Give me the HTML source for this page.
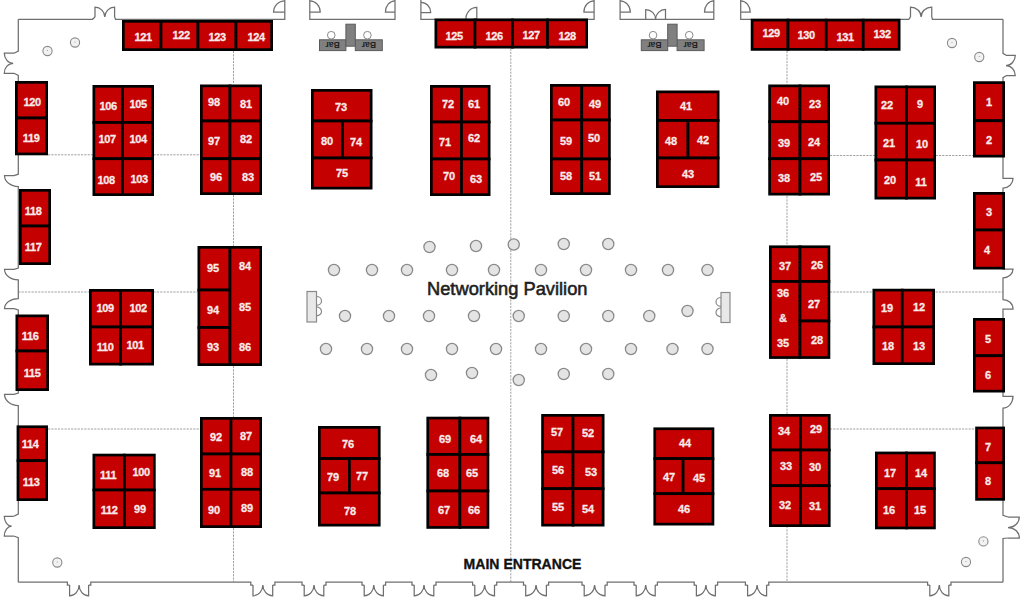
<!DOCTYPE html><html><head><meta charset="utf-8"><style>html,body{margin:0;padding:0;background:#fff;}svg{display:block;}</style></head><body>
<svg width="1024" height="601" viewBox="0 0 1024 601" font-family="Liberation Sans, sans-serif">
<rect width="1024" height="601" fill="#fff"/>
<g stroke="#a0a0a0" stroke-width="1" stroke-dasharray="2.2 1.1" fill="none">
<line x1="233.5" y1="51" x2="233.5" y2="84.5"/>
<line x1="233.5" y1="195" x2="233.5" y2="246"/>
<line x1="233.5" y1="366" x2="233.5" y2="417"/>
<line x1="233.5" y1="528" x2="233.5" y2="582"/>
<line x1="510.8" y1="48.5" x2="510.8" y2="582"/>
<line x1="787" y1="51" x2="787" y2="84.5"/>
<line x1="787" y1="196" x2="787" y2="245.5"/>
<line x1="787" y1="359" x2="787" y2="414"/>
<line x1="787" y1="526" x2="787" y2="582"/>
<line x1="48" y1="154.8" x2="200" y2="154.8"/>
<line x1="830" y1="155.5" x2="973" y2="155.5"/>
<line x1="18.3" y1="292" x2="197.5" y2="292"/>
<line x1="830" y1="292" x2="1003" y2="292"/>
<line x1="48" y1="429" x2="200" y2="429"/>
<line x1="830" y1="429" x2="975" y2="429"/>
</g>
<g stroke="#6f6f6f" stroke-width="1.25" fill="none" stroke-linejoin="miter">
<path d="M284.8,0 L284.8,19.3 L115.6,19.3 L114.6,17 M95,17 L92.5,19.3 L18.3,19.3"/>
<path d="M95,17.0 L95,7.199999999999999 A9.799999999999997,9.8 0 0 1 104.8,17.0 A9.799999999999997,9.8 0 0 1 114.6,7.199999999999999 L114.6,17.0"/>
<path d="M284.8,12.2 L273.6,12.2 A11.2,11.4 0 0 1 284.8,0.8"/>
<path d="M309.8,0 L309.8,19.3 L395,19.3 L395,0"/>
<path d="M309.8,12.2 L320.2,12.2 A10.4,11.4 0 0 0 309.8,0.8"/>
<path d="M395,12.2 L385.4,12.2 A9.6,11.4 0 0 1 395,0.8"/>
<path d="M420.9,0 L420.9,19.3 L594.1,19.3 L594.1,0"/>
<path d="M420.9,12.5 L430.7,12.5 A9.8,10.2 0 0 0 420.9,2.3"/>
<path d="M465.9,19.3 A10.9,11.7 0 0 1 476.8,7.4 L476.8,19.3"/>
<path d="M594.1,12.2 L583.9,12.2 A10.2,11.4 0 0 1 594.1,0.8"/>
<path d="M620.1,0 L620.1,19.3 L713.8,19.3 L713.8,0"/>
<path d="M620.1,12.2 L630.3,12.2 A10.2,11.4 0 0 0 620.1,0.8"/>
<path d="M713.8,12.2 L704.5,12.2 A9.3,11.4 0 0 1 713.8,0.8"/>
<path d="M645.7,19.3 L645.7,9.5 A9.899999999999977,9.8 0 0 1 655.6,19.3 A9.899999999999977,9.8 0 0 1 665.5,9.5 L665.5,19.3"/>
<path d="M740.7,0 L740.7,19.3 L908.7,19.3 L910.5,17 M931.75,17 L932.5,19.3 L1003,19.3"/>
<path d="M740.7,12.2 L750.2,12.2 A9.5,11.4 0 0 0 740.7,0.8"/>
<path d="M910.5,17 L910.5,7.199999999999999 A10.625,9.8 0 0 1 921.125,17 A10.625,9.8 0 0 1 931.75,7.199999999999999 L931.75,17"/>
<path d="M18.3,19.3 L18.3,51 L14,53.2"/>
<path d="M14,53.2 L4.3,53.2 A8.899999999999999,10.049999999999997 0 0 0 13.2,63.25 A8.899999999999999,10.049999999999997 0 0 0 4.3,73.3 L14,73.3"/>
<path d="M14,73.3 L18.3,75.4 L18.3,174.2 L14,175.5 L4.5,175.5 A13.8,11 0 0 0 18.3,186.5 L18.3,268 L14,269.3 L4.5,269.3 A13.8,10.5 0 0 0 18.3,279.8 L18.3,298.5 A13.8,10.1 0 0 0 4.5,308.6 L14,308.6 L18.3,310 L18.3,393 L14,394.3 L4.5,394.3 A13.8,11.2 0 0 0 18.3,405.5 L18.3,514 L13.7,516.3"/>
<path d="M13.7,516.3 L4.3,516.3 A7.3999999999999995,9.850000000000023 0 0 0 11.7,526.15 A7.3999999999999995,9.850000000000023 0 0 0 4.3,536 L13.7,536"/>
<path d="M13.7,536 L18.3,537.7 L18.3,582.2"/>
<path d="M1003,19.3 L1003,53.3 L1006,55.3"/>
<path d="M1006,55.3 L1015.3,55.3 A9.299999999999955,10.200000000000003 0 0 1 1006,65.5 A9.299999999999955,10.200000000000003 0 0 1 1015.3,75.7 L1006,75.7"/>
<path d="M1006,75.7 L1003,77.7 L1003,178.4 L1013,178.4 A10,9.6 0 0 1 1003,188 L1003,269.2 L1013,269.2 A10,8.6 0 0 1 1003,277.8 L1003,299.5 A10,9.5 0 0 1 1013,309 L1003,309 L1003,396.3 L1013,396.3 A10,11.7 0 0 1 1003,408 L1003,515.3 L1008,517"/>
<path d="M1008,517 L1019.3,517 A11.299999999999955,10.5 0 0 1 1008,527.5 A11.299999999999955,10.5 0 0 1 1019.3,538 L1008,538"/>
<path d="M1008,538 L1003,538.5 L1003,582.2"/>
<path d="M18.3,582.2 L67.4,582.2 L67.4,585 L69.60000000000001,585 M88.6,585 L90.8,585 L90.8,582.2 L250.8,582.2 L250.8,585 L253.0,585 M272.7,585 L274.9,585 L274.9,582.2 L302,582.2 L302,585 L304.2,585 M323.8,585 L326,585 L326,582.2 L362,582.2 L362,585 L364.2,585 M383.40000000000003,585 L385.6,585 L385.6,582.2 L412,582.2 L412,585 L414.2,585 M433.8,585 L436,585 L436,582.2 L472.6,582.2 L472.6,585 L474.8,585 M494.5,585 L496.7,585 L496.7,582.2 L523.5,582.2 L523.5,585 L525.7,585 M546.4,585 L548.6,585 L548.6,582.2 L582,582.2 L582,585 L584.2,585 M605.0,585 L607.2,585 L607.2,582.2 L634,582.2 L634,585 L636.2,585 M655.1999999999999,585 L657.4,585 L657.4,582.2 L694.2,582.2 L694.2,585 L696.4000000000001,585 M715.4,585 L717.6,585 L717.6,582.2 L745.4,582.2 L745.4,585 L747.6,585 M766.5999999999999,585 L768.8,585 L768.8,582.2 L927.6,582.2 L927.6,585 L929.8000000000001,585 M948.8,585 L951,585 L951,582.2 L1003,582.2"/>
<path d="M69.60000000000001,585.0 L69.60000000000001,595.8 A9.499999999999986,10.8 0 0 0 79.1,585.0 A9.499999999999986,10.8 0 0 0 88.6,595.8 L88.6,585.0"/>
<path d="M253.0,585.0 L253.0,595.8 A9.850000000000023,10.8 0 0 0 262.85,585.0 A9.850000000000023,10.8 0 0 0 272.7,595.8 L272.7,585.0"/>
<path d="M304.2,585.0 L304.2,595.8 A9.800000000000011,10.8 0 0 0 314.0,585.0 A9.800000000000011,10.8 0 0 0 323.8,595.8 L323.8,585.0"/>
<path d="M364.2,585.0 L364.2,595.8 A9.600000000000023,10.8 0 0 0 373.8,585.0 A9.600000000000023,10.8 0 0 0 383.40000000000003,595.8 L383.40000000000003,585.0"/>
<path d="M414.2,585.0 L414.2,595.8 A9.800000000000011,10.8 0 0 0 424.0,585.0 A9.800000000000011,10.8 0 0 0 433.8,595.8 L433.8,585.0"/>
<path d="M474.8,585.0 L474.8,595.8 A9.849999999999966,10.8 0 0 0 484.65,585.0 A9.849999999999966,10.8 0 0 0 494.5,595.8 L494.5,585.0"/>
<path d="M525.7,585.0 L525.7,595.8 A10.349999999999909,10.8 0 0 0 536.05,585.0 A10.349999999999909,10.8 0 0 0 546.4,595.8 L546.4,585.0"/>
<path d="M584.2,585.0 L584.2,595.8 A10.399999999999977,10.8 0 0 0 594.6,585.0 A10.399999999999977,10.8 0 0 0 605.0,595.8 L605.0,585.0"/>
<path d="M636.2,585.0 L636.2,595.8 A9.5,10.8 0 0 0 645.7,585.0 A9.5,10.8 0 0 0 655.1999999999999,595.8 L655.1999999999999,585.0"/>
<path d="M696.4000000000001,585.0 L696.4000000000001,595.8 A9.5,10.8 0 0 0 705.9000000000001,585.0 A9.5,10.8 0 0 0 715.4,595.8 L715.4,585.0"/>
<path d="M747.6,585.0 L747.6,595.8 A9.499999999999886,10.8 0 0 0 757.0999999999999,585.0 A9.499999999999886,10.8 0 0 0 766.5999999999999,595.8 L766.5999999999999,585.0"/>
<path d="M929.8000000000001,585.0 L929.8000000000001,595.8 A9.499999999999886,10.8 0 0 0 939.3,585.0 A9.499999999999886,10.8 0 0 0 948.8,595.8 L948.8,585.0"/>
</g>
<g stroke="#8a8a8a" stroke-width="1.3" fill="#e4e4e4">
<circle cx="429.5" cy="247" r="5.6"/>
<circle cx="476" cy="246" r="5.6"/>
<circle cx="513.75" cy="244.5" r="5.6"/>
<circle cx="563.75" cy="244" r="5.6"/>
<circle cx="608.25" cy="244" r="5.6"/>
<circle cx="334" cy="270" r="5.6"/>
<circle cx="372" cy="270" r="5.6"/>
<circle cx="407" cy="270" r="5.6"/>
<circle cx="452" cy="270" r="5.6"/>
<circle cx="494" cy="270" r="5.6"/>
<circle cx="541" cy="270" r="5.6"/>
<circle cx="586" cy="270" r="5.6"/>
<circle cx="631" cy="270" r="5.6"/>
<circle cx="668" cy="270" r="5.6"/>
<circle cx="707.5" cy="270" r="5.6"/>
<circle cx="345" cy="316" r="5.6"/>
<circle cx="389" cy="316" r="5.6"/>
<circle cx="429" cy="316" r="5.6"/>
<circle cx="474" cy="316" r="5.6"/>
<circle cx="518.75" cy="316" r="5.6"/>
<circle cx="563.75" cy="316" r="5.6"/>
<circle cx="608.25" cy="316" r="5.6"/>
<circle cx="649.25" cy="316" r="5.6"/>
<circle cx="687.5" cy="311" r="5.6"/>
<circle cx="326" cy="349" r="5.6"/>
<circle cx="367" cy="349" r="5.6"/>
<circle cx="407" cy="349" r="5.6"/>
<circle cx="452" cy="349" r="5.6"/>
<circle cx="496" cy="349" r="5.6"/>
<circle cx="541" cy="349" r="5.6"/>
<circle cx="586" cy="349" r="5.6"/>
<circle cx="631" cy="349" r="5.6"/>
<circle cx="672.5" cy="349" r="5.6"/>
<circle cx="707.5" cy="349" r="5.6"/>
<circle cx="431" cy="375" r="5.6"/>
<circle cx="472" cy="373" r="5.6"/>
<circle cx="518.75" cy="380" r="5.6"/>
<circle cx="563.75" cy="374" r="5.6"/>
<circle cx="608.25" cy="374" r="5.6"/>
</g>
<g stroke="#8a8a8a" stroke-width="1.1" fill="#f2f2f2">
<circle cx="47.5" cy="51" r="4.6"/><circle cx="47.5" cy="50.5" r="0.6" stroke="none" fill="#999"/>
<circle cx="75" cy="42.5" r="4.6"/><circle cx="75" cy="42.0" r="0.6" stroke="none" fill="#999"/>
<circle cx="952" cy="43" r="4.6"/><circle cx="952" cy="42.5" r="0.6" stroke="none" fill="#999"/>
<circle cx="979.25" cy="57" r="4.6"/><circle cx="979.25" cy="56.5" r="0.6" stroke="none" fill="#999"/>
<circle cx="57.3" cy="562.5" r="4.6"/><circle cx="57.3" cy="562.0" r="0.6" stroke="none" fill="#999"/>
<circle cx="966" cy="562" r="4.6"/><circle cx="966" cy="561.5" r="0.6" stroke="none" fill="#999"/>
<circle cx="983.4" cy="541.4" r="4.6"/><circle cx="983.4" cy="540.9" r="0.6" stroke="none" fill="#999"/>
</g>
<g stroke="#8a8a8a" stroke-width="1.2" fill="#e8e8e8">
<rect x="307" y="291.5" width="9.5" height="30.5"/>
<path d="M316.5,296.5 A5,4.4 0 1 1 316.5,305.3 M316.5,307 A5,4.4 0 1 1 316.5,315.8" fill="none"/>
<rect x="721" y="292.5" width="9" height="30"/>
<path d="M721,297.5 A5,4.4 0 1 0 721,306.3 M721,308 A5,4.4 0 1 0 721,316.8" fill="none"/>
</g>
<g transform="translate(0.00,0)"><rect x="319.5" y="39.8" width="26.4" height="10.8" fill="#808080" stroke="#5a5a5a" stroke-width="1"/><rect x="355.3" y="39.8" width="27" height="10.8" fill="#808080" stroke="#5a5a5a" stroke-width="1"/><rect x="345.9" y="24.2" width="9.4" height="22" fill="#808080" stroke="#5a5a5a" stroke-width="1"/><circle cx="331.25" cy="35.2" r="3.8" fill="#fff" stroke="#8a8a8a" stroke-width="1"/><circle cx="367.4" cy="35.2" r="3.8" fill="#fff" stroke="#8a8a8a" stroke-width="1"/><text x="332.6" y="48.3" transform="rotate(180 332.6 45.2)" font-size="8.5" font-weight="bold" fill="#222" text-anchor="middle">Bar</text><text x="368.8" y="48.3" transform="rotate(180 368.8 45.2)" font-size="8.5" font-weight="bold" fill="#222" text-anchor="middle">Bar</text></g>
<g transform="translate(321.80,0)"><rect x="319.5" y="39.8" width="26.4" height="10.8" fill="#808080" stroke="#5a5a5a" stroke-width="1"/><rect x="355.3" y="39.8" width="27" height="10.8" fill="#808080" stroke="#5a5a5a" stroke-width="1"/><rect x="345.9" y="24.2" width="9.4" height="22" fill="#808080" stroke="#5a5a5a" stroke-width="1"/><circle cx="331.25" cy="35.2" r="3.8" fill="#fff" stroke="#8a8a8a" stroke-width="1"/><circle cx="367.4" cy="35.2" r="3.8" fill="#fff" stroke="#8a8a8a" stroke-width="1"/><text x="332.6" y="48.3" transform="rotate(180 332.6 45.2)" font-size="8.5" font-weight="bold" fill="#222" text-anchor="middle">Bar</text><text x="368.8" y="48.3" transform="rotate(180 368.8 45.2)" font-size="8.5" font-weight="bold" fill="#222" text-anchor="middle">Bar</text></g>
<g fill="#C50000" stroke="#000" stroke-width="2.7">
<rect x="123.35" y="21.35" width="37.65" height="28.30"/>
<rect x="161.00" y="21.35" width="37.00" height="28.30"/>
<rect x="198.00" y="21.35" width="38.00" height="28.30"/>
<rect x="236.00" y="21.35" width="35.65" height="28.30"/>
<rect x="435.85" y="19.85" width="39.15" height="27.30"/>
<rect x="475.00" y="19.85" width="37.50" height="27.30"/>
<rect x="512.50" y="19.85" width="35.00" height="27.30"/>
<rect x="547.50" y="19.85" width="39.15" height="27.30"/>
<rect x="752.10" y="20.10" width="35.90" height="29.30"/>
<rect x="788.00" y="20.10" width="38.25" height="29.30"/>
<rect x="826.25" y="20.10" width="37.00" height="29.30"/>
<rect x="863.25" y="20.10" width="35.90" height="29.30"/>
<rect x="16.35" y="82.35" width="30.30" height="35.65"/>
<rect x="16.35" y="118.00" width="30.30" height="35.95"/>
<rect x="20.35" y="190.35" width="29.30" height="35.65"/>
<rect x="20.35" y="226.00" width="29.30" height="37.65"/>
<rect x="16.85" y="315.85" width="30.80" height="35.15"/>
<rect x="16.85" y="351.00" width="30.80" height="38.65"/>
<rect x="17.95" y="426.75" width="28.70" height="33.95"/>
<rect x="17.95" y="460.70" width="28.70" height="38.95"/>
<rect x="974.35" y="82.60" width="29.30" height="38.15"/>
<rect x="974.35" y="120.75" width="29.30" height="35.40"/>
<rect x="974.35" y="193.35" width="29.30" height="36.65"/>
<rect x="974.35" y="230.00" width="29.30" height="38.15"/>
<rect x="974.35" y="319.35" width="29.30" height="36.40"/>
<rect x="974.35" y="355.75" width="29.30" height="35.40"/>
<rect x="976.55" y="427.95" width="27.10" height="34.85"/>
<rect x="976.55" y="462.80" width="27.10" height="36.55"/>
<rect x="93.85" y="86.35" width="28.65" height="36.15"/>
<rect x="122.50" y="86.35" width="30.15" height="36.15"/>
<rect x="93.85" y="122.50" width="28.65" height="36.25"/>
<rect x="122.50" y="122.50" width="30.15" height="36.25"/>
<rect x="93.85" y="158.75" width="28.65" height="35.90"/>
<rect x="122.50" y="158.75" width="30.15" height="35.90"/>
<rect x="201.35" y="85.85" width="28.65" height="35.15"/>
<rect x="230.00" y="85.85" width="30.65" height="35.15"/>
<rect x="201.35" y="121.00" width="28.65" height="37.75"/>
<rect x="230.00" y="121.00" width="30.65" height="37.75"/>
<rect x="201.35" y="158.75" width="28.65" height="34.90"/>
<rect x="230.00" y="158.75" width="30.65" height="34.90"/>
<rect x="312.35" y="90.35" width="58.80" height="30.65"/>
<rect x="312.35" y="121.00" width="30.15" height="37.00"/>
<rect x="342.50" y="121.00" width="28.65" height="37.00"/>
<rect x="312.35" y="158.00" width="58.80" height="30.15"/>
<rect x="431.35" y="86.35" width="30.15" height="35.65"/>
<rect x="461.50" y="86.35" width="27.65" height="35.65"/>
<rect x="431.35" y="122.00" width="30.15" height="37.00"/>
<rect x="461.50" y="122.00" width="27.65" height="37.00"/>
<rect x="431.35" y="159.00" width="30.15" height="35.65"/>
<rect x="461.50" y="159.00" width="27.65" height="35.65"/>
<rect x="551.35" y="85.35" width="30.40" height="34.65"/>
<rect x="581.75" y="85.35" width="27.65" height="34.65"/>
<rect x="551.35" y="120.00" width="30.40" height="39.00"/>
<rect x="581.75" y="120.00" width="27.65" height="39.00"/>
<rect x="551.35" y="159.00" width="30.40" height="34.65"/>
<rect x="581.75" y="159.00" width="27.65" height="34.65"/>
<rect x="657.35" y="91.85" width="60.80" height="28.65"/>
<rect x="657.35" y="120.50" width="30.65" height="37.50"/>
<rect x="688.00" y="120.50" width="30.15" height="37.50"/>
<rect x="657.35" y="158.00" width="60.80" height="28.65"/>
<rect x="769.60" y="85.85" width="30.40" height="35.90"/>
<rect x="800.00" y="85.85" width="28.65" height="35.90"/>
<rect x="769.60" y="121.75" width="30.40" height="37.00"/>
<rect x="800.00" y="121.75" width="28.65" height="37.00"/>
<rect x="769.60" y="158.75" width="30.40" height="35.40"/>
<rect x="800.00" y="158.75" width="28.65" height="35.40"/>
<rect x="875.85" y="86.85" width="30.65" height="36.40"/>
<rect x="906.50" y="86.85" width="28.15" height="36.40"/>
<rect x="875.85" y="123.25" width="30.65" height="36.75"/>
<rect x="906.50" y="123.25" width="28.15" height="36.75"/>
<rect x="875.85" y="160.00" width="30.65" height="38.15"/>
<rect x="906.50" y="160.00" width="28.15" height="38.15"/>
<rect x="198.85" y="247.35" width="31.15" height="42.65"/>
<rect x="198.85" y="290.00" width="31.15" height="37.50"/>
<rect x="198.85" y="327.50" width="31.15" height="37.15"/>
<rect x="230.00" y="247.35" width="30.65" height="117.30"/>
<rect x="90.35" y="290.35" width="30.15" height="36.65"/>
<rect x="120.50" y="290.35" width="32.15" height="36.65"/>
<rect x="90.35" y="327.00" width="30.15" height="37.15"/>
<rect x="120.50" y="327.00" width="32.15" height="37.15"/>
<rect x="770.35" y="246.75" width="29.65" height="34.75"/>
<rect x="770.35" y="281.50" width="29.65" height="76.05"/>
<rect x="800.00" y="246.75" width="28.95" height="34.75"/>
<rect x="800.00" y="281.50" width="28.95" height="39.50"/>
<rect x="800.00" y="321.00" width="28.95" height="36.55"/>
<rect x="873.85" y="290.10" width="28.40" height="36.90"/>
<rect x="902.25" y="290.10" width="31.40" height="36.90"/>
<rect x="873.85" y="327.00" width="28.40" height="36.65"/>
<rect x="902.25" y="327.00" width="31.40" height="36.65"/>
<rect x="93.85" y="455.05" width="30.55" height="34.95"/>
<rect x="124.40" y="455.05" width="29.95" height="34.95"/>
<rect x="93.85" y="490.00" width="30.55" height="37.65"/>
<rect x="124.40" y="490.00" width="29.95" height="37.65"/>
<rect x="201.35" y="418.35" width="29.65" height="35.65"/>
<rect x="231.00" y="418.35" width="29.65" height="35.65"/>
<rect x="201.35" y="454.00" width="29.65" height="35.30"/>
<rect x="231.00" y="454.00" width="29.65" height="35.30"/>
<rect x="201.35" y="489.30" width="29.65" height="37.35"/>
<rect x="231.00" y="489.30" width="29.65" height="37.35"/>
<rect x="319.35" y="427.35" width="59.90" height="31.25"/>
<rect x="319.35" y="458.60" width="30.05" height="34.40"/>
<rect x="349.40" y="458.60" width="29.85" height="34.40"/>
<rect x="319.35" y="493.00" width="59.90" height="32.15"/>
<rect x="427.75" y="418.05" width="32.15" height="36.45"/>
<rect x="459.90" y="418.05" width="28.05" height="36.45"/>
<rect x="427.75" y="454.50" width="32.15" height="36.50"/>
<rect x="459.90" y="454.50" width="28.05" height="36.50"/>
<rect x="427.75" y="491.00" width="32.15" height="36.45"/>
<rect x="459.90" y="491.00" width="28.05" height="36.45"/>
<rect x="542.55" y="415.35" width="30.45" height="36.55"/>
<rect x="573.00" y="415.35" width="30.15" height="36.55"/>
<rect x="542.55" y="451.90" width="30.45" height="36.80"/>
<rect x="573.00" y="451.90" width="30.15" height="36.80"/>
<rect x="542.55" y="488.70" width="30.45" height="36.45"/>
<rect x="573.00" y="488.70" width="30.15" height="36.45"/>
<rect x="654.75" y="428.75" width="58.20" height="29.85"/>
<rect x="654.75" y="458.60" width="28.35" height="35.10"/>
<rect x="683.10" y="458.60" width="29.85" height="35.10"/>
<rect x="654.75" y="493.70" width="58.20" height="30.45"/>
<rect x="770.35" y="415.35" width="30.15" height="34.65"/>
<rect x="800.50" y="415.35" width="28.75" height="34.65"/>
<rect x="770.35" y="450.00" width="30.15" height="35.70"/>
<rect x="800.50" y="450.00" width="28.75" height="35.70"/>
<rect x="770.35" y="485.70" width="30.15" height="39.95"/>
<rect x="800.50" y="485.70" width="28.75" height="39.95"/>
<rect x="876.35" y="452.95" width="30.15" height="35.75"/>
<rect x="906.50" y="452.95" width="27.95" height="35.75"/>
<rect x="876.35" y="488.70" width="30.15" height="39.25"/>
<rect x="906.50" y="488.70" width="27.95" height="39.25"/>
</g>
<g fill="#f8eaea" stroke="#f8eaea" stroke-width="0.3" font-size="11" font-weight="bold" text-anchor="middle">
<text x="143.17" y="41" letter-spacing="-0.35">121</text>
<text x="181.17" y="39" letter-spacing="-0.35">122</text>
<text x="217.17" y="41" letter-spacing="-0.35">123</text>
<text x="256.17" y="41" letter-spacing="-0.35">124</text>
<text x="454.17" y="40" letter-spacing="-0.35">125</text>
<text x="494.17" y="40" letter-spacing="-0.35">126</text>
<text x="531.17" y="39" letter-spacing="-0.35">127</text>
<text x="567.17" y="40" letter-spacing="-0.35">128</text>
<text x="771.17" y="37" letter-spacing="-0.35">129</text>
<text x="806.17" y="39" letter-spacing="-0.35">130</text>
<text x="845.17" y="41" letter-spacing="-0.35">131</text>
<text x="882.17" y="38" letter-spacing="-0.35">132</text>
<text x="32.17" y="106" letter-spacing="-0.35">120</text>
<text x="31.17" y="142" letter-spacing="-0.35">119</text>
<text x="33.17" y="215" letter-spacing="-0.35">118</text>
<text x="33.17" y="251" letter-spacing="-0.35">117</text>
<text x="30.17" y="340" letter-spacing="-0.35">116</text>
<text x="32.17" y="377" letter-spacing="-0.35">115</text>
<text x="30.17" y="448" letter-spacing="-0.35">114</text>
<text x="31.17" y="486" letter-spacing="-0.35">113</text>
<text x="989" y="106">1</text>
<text x="989" y="144">2</text>
<text x="989" y="216">3</text>
<text x="987" y="254">4</text>
<text x="988" y="343">5</text>
<text x="988" y="379">6</text>
<text x="988" y="451">7</text>
<text x="988" y="485">8</text>
<text x="108.17" y="110" letter-spacing="-0.35">106</text>
<text x="138.17" y="108" letter-spacing="-0.35">105</text>
<text x="107.17" y="143" letter-spacing="-0.35">107</text>
<text x="138.17" y="143" letter-spacing="-0.35">104</text>
<text x="106.17" y="184" letter-spacing="-0.35">108</text>
<text x="139.17" y="183" letter-spacing="-0.35">103</text>
<text x="214" y="106">98</text>
<text x="246" y="108">81</text>
<text x="214" y="145">97</text>
<text x="246" y="143">82</text>
<text x="216" y="181">96</text>
<text x="248" y="181">83</text>
<text x="341" y="111">73</text>
<text x="327" y="145">80</text>
<text x="356" y="146">74</text>
<text x="342" y="177">75</text>
<text x="448" y="108">72</text>
<text x="474" y="108">61</text>
<text x="445" y="146">71</text>
<text x="474" y="142">62</text>
<text x="449" y="180">70</text>
<text x="476" y="183">63</text>
<text x="564" y="106">60</text>
<text x="595" y="108">49</text>
<text x="566" y="145">59</text>
<text x="594" y="142">50</text>
<text x="566" y="180">58</text>
<text x="595" y="180">51</text>
<text x="686" y="110">41</text>
<text x="671" y="145">48</text>
<text x="703" y="144">42</text>
<text x="688" y="178">43</text>
<text x="783" y="105">40</text>
<text x="815" y="108">23</text>
<text x="784" y="147">39</text>
<text x="814" y="146">24</text>
<text x="784" y="182">38</text>
<text x="816" y="181">25</text>
<text x="887" y="109">22</text>
<text x="920" y="108">9</text>
<text x="889" y="147">21</text>
<text x="922" y="148">10</text>
<text x="890" y="184">20</text>
<text x="921" y="186">11</text>
<text x="213" y="272">95</text>
<text x="245" y="270">84</text>
<text x="213" y="314">94</text>
<text x="245" y="311">85</text>
<text x="213" y="351">93</text>
<text x="245" y="351">86</text>
<text x="105.17" y="312" letter-spacing="-0.35">109</text>
<text x="138.17" y="312" letter-spacing="-0.35">102</text>
<text x="105.17" y="351" letter-spacing="-0.35">110</text>
<text x="135.17" y="349" letter-spacing="-0.35">101</text>
<text x="785" y="270">37</text>
<text x="817" y="269">26</text>
<text x="783" y="297">36</text>
<text x="783" y="322">&</text>
<text x="783" y="347">35</text>
<text x="814" y="308">27</text>
<text x="817" y="344">28</text>
<text x="887" y="312">19</text>
<text x="919" y="311">12</text>
<text x="888" y="350">18</text>
<text x="919" y="350">13</text>
<text x="108.17" y="479" letter-spacing="-0.35">111</text>
<text x="141.17" y="476" letter-spacing="-0.35">100</text>
<text x="109.17" y="514" letter-spacing="-0.35">112</text>
<text x="140" y="513">99</text>
<text x="216" y="441">92</text>
<text x="246" y="440">87</text>
<text x="215" y="477">91</text>
<text x="247" y="476">88</text>
<text x="214" y="514">90</text>
<text x="247" y="512">89</text>
<text x="348" y="448">76</text>
<text x="333" y="481">79</text>
<text x="362" y="480">77</text>
<text x="350" y="515">78</text>
<text x="445" y="443">69</text>
<text x="476" y="443">64</text>
<text x="443" y="477">68</text>
<text x="472" y="477">65</text>
<text x="444" y="514">67</text>
<text x="474" y="514">66</text>
<text x="557" y="436">57</text>
<text x="588" y="437">52</text>
<text x="558" y="474">56</text>
<text x="591" y="476">53</text>
<text x="558" y="511">55</text>
<text x="588" y="513">54</text>
<text x="685" y="447">44</text>
<text x="669" y="481">47</text>
<text x="699" y="482">45</text>
<text x="684" y="513">46</text>
<text x="784" y="435">34</text>
<text x="816" y="433">29</text>
<text x="786" y="470">33</text>
<text x="815" y="471">30</text>
<text x="785" y="509">32</text>
<text x="815" y="510">31</text>
<text x="890" y="477">17</text>
<text x="921" y="477">14</text>
<text x="889" y="514">16</text>
<text x="920" y="514">15</text>
</g>
<text x="427" y="294.5" font-size="17.5" textLength="160.5" lengthAdjust="spacingAndGlyphs" fill="#1e1e1e" stroke="#1e1e1e" stroke-width="0.55">Networking Pavilion</text>
<text x="463.6" y="569.4" font-size="15.2" font-weight="bold" textLength="117.8" lengthAdjust="spacingAndGlyphs" fill="#111" stroke="#111" stroke-width="0.35">MAIN ENTRANCE</text>
</svg></body></html>
